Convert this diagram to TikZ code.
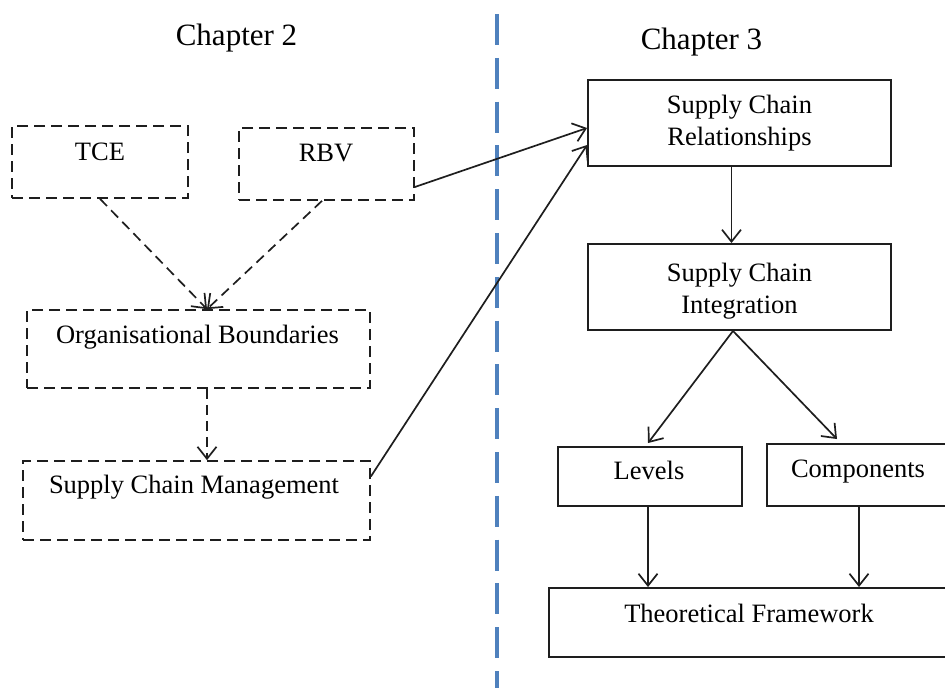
\documentclass[tikz,border=0pt]{standalone}
\usepackage{fontspec}
\setmainfont{Liberation Serif}
\usetikzlibrary{arrows.meta,calc}
\definecolor{divider}{HTML}{4F81BD}
\definecolor{ink}{HTML}{1E1E1E}
\begin{document}
\begin{tikzpicture}[x=1pt,y=-1pt,
  solidbox/.style={draw=ink, line width=1.9pt, inner sep=0pt, rectangle},
  dashbox/.style={solidbox, line width=1.7pt, dash pattern=on 11pt off 6pt},
  lbl/.style={font=\fontsize{26.5}{31.5}\selectfont, inner sep=0pt, align=center, text=black},
  chap/.style={font=\fontsize{31}{36}\selectfont, inner sep=0pt, text=black},
  arr/.style={draw=ink, line width=1.7pt,
    -{Straight Barb[length=12pt,width=19pt,line width=1.7pt]}},
  darr/.style={arr, dash pattern=on 10pt off 6pt}]

\useasboundingbox (0,0) rectangle (945,688);
\clip (0,0) rectangle (945,688);

% chapter divider
\coordinate (divtop) at (497,14);
\coordinate (divbot) at (497,700);
\draw[divider, line width=3.5pt, dash pattern=on 31pt off 12.8pt] (divtop) -- (divbot);

% chapter headings
\node[chap, anchor=base] (ch2) at (236.5,45) {Chapter 2};
\node[chap, anchor=base] (ch3) at (701.5,49) {Chapter 3};

% Chapter 2: theory boxes (dashed)
\node[dashbox, minimum width=176pt, minimum height=72pt] (tce) at (100,162) {};
\node[lbl, anchor=base] (tcetxt) at (100,160) {TCE};
\node[dashbox, minimum width=175pt, minimum height=72pt] (rbv) at (326.5,164) {};
\node[lbl, anchor=base] (rbvtxt) at (326,161.5) {RBV};
\node[dashbox, minimum width=343pt, minimum height=78pt] (org) at (198.5,349) {};
\node[lbl, anchor=base] (orgtxt) at (197.5,343) {Organisational Boundaries};
\node[dashbox, minimum width=347pt, minimum height=79pt] (scm) at (196.5,500.5) {};
\node[lbl, anchor=base] (scmtxt) at (194,493) {Supply Chain Management};

% Chapter 3: solid boxes
\node[solidbox, minimum width=303pt, minimum height=86pt] (scr) at (739.5,123) {};
\node[lbl, anchor=north] (scrtxt) at (739.5,95) {Supply Chain\\Relationships};
\node[solidbox, minimum width=303pt, minimum height=86pt] (sci) at (739.5,287) {};
\node[lbl, anchor=north] (scitxt) at (739.5,263) {Supply Chain\\Integration};
\node[solidbox, minimum width=184pt, minimum height=59pt] (lev) at (650,476.5) {};
\node[lbl, anchor=base] (levtxt) at (649,479) {Levels};
\node[solidbox, minimum width=182pt, minimum height=62pt] (comp) at (858,475) {};
\node[lbl, anchor=base] (comptxt) at (858,477) {Components};
\node[solidbox, minimum width=400pt, minimum height=69pt] (tf) at (749,622.5) {};
\node[lbl, anchor=base] (tftxt) at (749,622) {Theoretical Framework};

% dashed links inside Chapter 2
\draw[darr] (tce.south) -- ([xshift=8.5pt]org.north);
\draw[darr] ([xshift=-4.5pt]rbv.south) -- ([xshift=8.5pt]org.north);
\draw[darr] ([xshift=8.5pt]org.south) -- ([xshift=10.5pt]scm.north);

% links across the divider
\draw[arr] ($(rbv.east)+(0,23)$) -- ($(scr.west)+(0,5)$);
\draw[arr] ($(scm.east)+(0,-24)$) -- ($(scr.west)+(0,22)$);

% links inside Chapter 3
\draw[arr] ($(scr.south)+(-8,0)$) -- ($(sci.north)+(-8,0)$);
\draw[arr] ($(sci.south)+(-6.5,0)$) -- ($(lev.north)+(-2,-3)$);
\draw[arr] ($(sci.south)+(-6.5,0)$) -- ($(comp.north)+(-21,-4)$);
\draw[arr] ($(lev.south)+(-2,0)$) -- ($(tf.north)+(-101,0)$);
\draw[arr] ($(comp.south)+(1,0)$) -- ($(tf.north)+(110,0)$);
\end{tikzpicture}
\end{document}
